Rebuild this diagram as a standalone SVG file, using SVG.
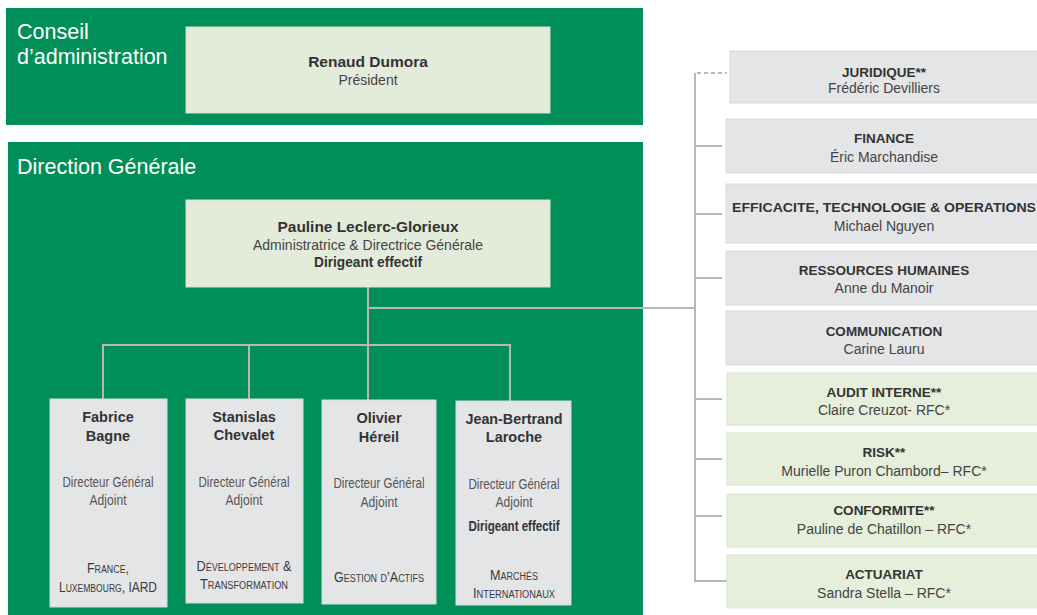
<svg xmlns="http://www.w3.org/2000/svg" width="1037" height="615" viewBox="0 0 1037 615">
<style>
.bg{fill:#ffffff}
.band{fill:#008f58}
.title{font-family:"Liberation Sans",Arial,sans-serif;font-size:21.5px;fill:#ffffff}
.lg{fill:#e3ecdb;stroke:#d6e2cc;stroke-width:1}
.gr{fill:#e4e5e7;stroke:#d8d9dc;stroke-width:1}
.rg{fill:#e6eedc;stroke:#dbe6cf;stroke-width:1}
.b{font-family:"Liberation Sans",Arial,sans-serif;font-weight:bold;fill:#333333;text-anchor:middle}
.n{font-family:"Liberation Sans",Arial,sans-serif;fill:#444444;text-anchor:middle}
.sc{font-family:"Liberation Sans",Arial,sans-serif;fill:#3a3a3a;text-anchor:middle;font-variant:small-caps;font-size:14px}
.dg{fill:#555555}
.ln{fill:none;stroke:#b8b8b8;stroke-width:2}
.dash{stroke-dasharray:4 3}
</style>
<rect class="bg" x="0" y="0" width="1037" height="615"/>
<g id="conseil">
  <rect class="band" x="6" y="8" width="637" height="117"/>
  <text class="title" x="17" y="39">Conseil</text>
  <text class="title" x="17" y="64">d’administration</text>
</g>
<g id="direction">
  <rect class="band" x="8" y="142" width="635" height="480"/>
  <text class="title" x="17" y="174">Direction Générale</text>
</g>
<g id="connectors">
  <path class="ln" d="M368 287 V400 M368 308 H695 M103 399 V345 H510 V401 M249 345 V399"/>
  <path class="ln" d="M695 73 V581 H727 M695 146 H722 M695 214 H722 M695 278 H722 M695 399 H722 M695 459 H722 M695 516 H722"/>
  <path class="ln dash" d="M697 73 H727"/>
</g>
<g id="renaud">
  <rect class="lg" x="186" y="27" width="364" height="86"/>
  <text class="b" x="368" y="67" font-size="15.5">Renaud Dumora</text>
  <text class="n" x="368" y="85" font-size="14">Président</text>
</g>
<g id="pauline">
  <rect class="lg" x="186" y="200" width="364" height="87"/>
  <text class="b" x="368" y="232" font-size="15.5" textLength="181" lengthAdjust="spacingAndGlyphs">Pauline Leclerc-Glorieux</text>
  <text class="n" x="368" y="250" font-size="14.5" textLength="230" lengthAdjust="spacingAndGlyphs">Administratrice &amp; Directrice Générale</text>
  <text class="b" x="368" y="267" font-size="14.5" textLength="108" lengthAdjust="spacingAndGlyphs">Dirigeant effectif</text>
</g>
<g id="fabrice">
  <rect class="gr" x="50" y="399" width="117" height="208"/>
  <text class="b" x="108" y="422" font-size="14.5">Fabrice</text>
  <text class="b" x="108" y="441" font-size="14.5">Bagne</text>
  <text class="n dg" x="108" y="487" font-size="14.5" textLength="91" lengthAdjust="spacingAndGlyphs">Directeur Général</text>
  <text class="n dg" x="108" y="505" font-size="14.5" textLength="37" lengthAdjust="spacingAndGlyphs">Adjoint</text>
  <text class="sc" x="108" y="573" textLength="42" lengthAdjust="spacingAndGlyphs">France,</text>
  <text class="sc" x="108" y="592" textLength="98" lengthAdjust="spacingAndGlyphs">Luxembourg, IARD</text>
</g>
<g id="stanislas">
  <rect class="gr" x="186" y="399" width="117" height="204"/>
  <text class="b" x="244" y="422" font-size="14.5">Stanislas</text>
  <text class="b" x="244" y="440" font-size="14.5">Chevalet</text>
  <text class="n dg" x="244" y="487" font-size="14.5" textLength="91" lengthAdjust="spacingAndGlyphs">Directeur Général</text>
  <text class="n dg" x="244" y="505" font-size="14.5" textLength="37" lengthAdjust="spacingAndGlyphs">Adjoint</text>
  <text class="sc" x="244" y="571" textLength="95" lengthAdjust="spacingAndGlyphs">Développement &amp;</text>
  <text class="sc" x="244" y="589" textLength="88" lengthAdjust="spacingAndGlyphs">Transformation</text>
</g>
<g id="olivier">
  <rect class="gr" x="322" y="400" width="114" height="204"/>
  <text class="b" x="379" y="423" font-size="14.5">Olivier</text>
  <text class="b" x="379" y="442" font-size="14.5">Héreil</text>
  <text class="n dg" x="379" y="488" font-size="14.5" textLength="91" lengthAdjust="spacingAndGlyphs">Directeur Général</text>
  <text class="n dg" x="379" y="507" font-size="14.5" textLength="37" lengthAdjust="spacingAndGlyphs">Adjoint</text>
  <text class="sc" x="379" y="582" textLength="90" lengthAdjust="spacingAndGlyphs">Gestion d’Actifs</text>
</g>
<g id="jeanbertrand">
  <rect class="gr" x="456" y="401" width="115" height="204"/>
  <text class="b" x="514" y="424" font-size="14.5" textLength="97" lengthAdjust="spacingAndGlyphs">Jean-Bertrand</text>
  <text class="b" x="514" y="442" font-size="14.5">Laroche</text>
  <text class="n dg" x="514" y="489" font-size="14.5" textLength="91" lengthAdjust="spacingAndGlyphs">Directeur Général</text>
  <text class="n dg" x="514" y="507" font-size="14.5" textLength="37" lengthAdjust="spacingAndGlyphs">Adjoint</text>
  <text class="b" x="514" y="531" font-size="14" textLength="91" lengthAdjust="spacingAndGlyphs">Dirigeant effectif</text>
  <text class="sc" x="514" y="580" textLength="48" lengthAdjust="spacingAndGlyphs">Marchés</text>
  <text class="sc" x="514" y="598" textLength="82" lengthAdjust="spacingAndGlyphs">Internationaux</text>
</g>
<g id="juridique">
  <rect class="gr" x="730" y="51" width="312" height="52"/>
  <text class="b" x="884" y="77" font-size="13.5">JURIDIQUE**</text>
  <text class="n" x="884" y="93" font-size="14">Frédéric Devilliers</text>
</g>
<g id="finance">
  <rect class="gr" x="726" y="119" width="316" height="54"/>
  <text class="b" x="884" y="143" font-size="13.5">FINANCE</text>
  <text class="n" x="884" y="162" font-size="14">Éric Marchandise</text>
</g>
<g id="eto">
  <rect class="gr" x="726" y="184" width="316" height="59"/>
  <text class="b" x="884" y="212" font-size="13.5" textLength="304" lengthAdjust="spacingAndGlyphs">EFFICACITE, TECHNOLOGIE &amp; OPERATIONS</text>
  <text class="n" x="884" y="231" font-size="14">Michael Nguyen</text>
</g>
<g id="rh">
  <rect class="gr" x="726" y="251" width="316" height="54"/>
  <text class="b" x="884" y="275" font-size="13.5">RESSOURCES HUMAINES</text>
  <text class="n" x="884" y="293" font-size="14">Anne du Manoir</text>
</g>
<g id="communication">
  <rect class="gr" x="726" y="311" width="316" height="54"/>
  <text class="b" x="884" y="336" font-size="13.5">COMMUNICATION</text>
  <text class="n" x="884" y="354" font-size="14">Carine Lauru</text>
</g>
<g id="audit">
  <rect class="rg" x="727" y="373" width="315" height="52"/>
  <text class="b" x="884" y="397" font-size="13.5">AUDIT INTERNE**</text>
  <text class="n" x="884" y="415" font-size="14">Claire Creuzot- RFC*</text>
</g>
<g id="risk">
  <rect class="rg" x="727" y="433" width="315" height="52"/>
  <text class="b" x="884" y="457" font-size="13.5">RISK**</text>
  <text class="n" x="884" y="476" font-size="14">Murielle Puron Chambord– RFC*</text>
</g>
<g id="conformite">
  <rect class="rg" x="727" y="494" width="315" height="53"/>
  <text class="b" x="884" y="515" font-size="13.5">CONFORMITE**</text>
  <text class="n" x="884" y="534" font-size="14">Pauline de Chatillon – RFC*</text>
</g>
<g id="actuariat">
  <rect class="rg" x="727" y="555" width="315" height="53"/>
  <text class="b" x="884" y="579" font-size="13.5">ACTUARIAT</text>
  <text class="n" x="884" y="598" font-size="14">Sandra Stella – RFC*</text>
</g>
</svg>
